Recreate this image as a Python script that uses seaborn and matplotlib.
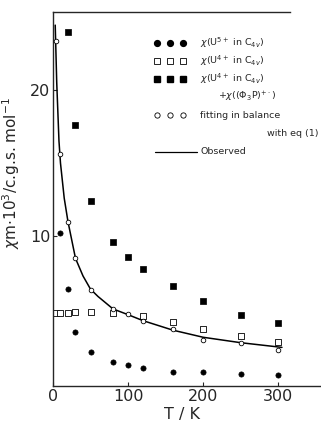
import matplotlib
matplotlib.use("Agg")
import matplotlib.pyplot as plt
import seaborn as sns

# chi(U5+ in C4v)
t_u5 = [10, 20, 30, 50, 80, 100, 120, 160, 200, 250, 300]
chi_u5 = [10.2, 6.4, 3.45, 2.1, 1.45, 1.2, 1.03, 0.78, 0.73, 0.64, 0.53]

# chi(U4+ in C4v)
t_u4 = [4.2, 10, 20, 30, 50, 80, 120, 160, 200, 250, 300]
chi_u4 = [4.8, 4.8, 4.8, 4.85, 4.85, 4.75, 4.6, 4.16, 3.71, 3.21, 2.82]

# chi(U4+) + chi((Ph3P)+.)
t_u4r = [20, 30, 50, 80, 100, 120, 160, 200, 250, 300]
chi_u4r = [23.9, 17.6, 12.4, 9.6, 8.57, 7.78, 6.6, 5.57, 4.64, 4.07]

# fitting with eq (1)
t_fit = [4.2, 10, 20, 30, 50, 80, 100, 120, 160, 200, 250, 300]
chi_fit = [23.3, 15.6, 11.0, 8.5, 6.35, 5.05, 4.7, 4.22, 3.69, 2.96, 2.75, 2.26]

# observed curve
t_obs = [3, 5, 8, 10, 15, 20, 30, 40, 50, 60, 80, 100, 120, 160, 200, 250, 305]
chi_obs = [24.4, 20.5, 16.5, 15.0, 12.6, 11.0, 8.5, 7.3, 6.4, 5.9, 5.05, 4.66,
           4.25, 3.6, 3.12, 2.75, 2.43]

# legend rows: (marker style, text, text indent)
legend_rows = [
    ('u5', r'$\chi$(U$^{5+}$ in C$_{4v}$)', 0.0),
    ('u4', r'$\chi$(U$^{4+}$ in C$_{4v}$)', 0.0),
    ('u4r', r'$\chi$(U$^{4+}$ in C$_{4v}$)', 0.0),
    (None, r'+$\chi$(($\Phi_3$P)$^{+\cdot}$)', 0.067),
    ('fit', 'fitting in balance', 0.0),
    (None, 'with eq (1)', 0.25),
    ('obs', 'Observed', 0.0),
]

sns.set_style("ticks")
plt.rcParams['font.family'] = ['DejaVu Sans']

fig = plt.figure(figsize=(3.21, 4.26), dpi=100)
ax = fig.add_axes([0.165, 0.094, 0.835, 0.878])

sns.lineplot(x=t_obs, y=chi_obs, ax=ax, color='black', linewidth=1.1)
sns.scatterplot(x=t_u5, y=chi_u5, ax=ax, marker='o', s=14, color='black',
                edgecolor='black', linewidth=0.5)
sns.scatterplot(x=t_u4, y=chi_u4, ax=ax, marker='s', s=13, facecolor='white',
                edgecolor='black', linewidth=0.6)
sns.scatterplot(x=t_u4r, y=chi_u4r, ax=ax, marker='s', s=16, color='black',
                edgecolor='black', linewidth=0.5)
sns.scatterplot(x=t_fit, y=chi_fit, ax=ax, marker='o', s=11, facecolor='white',
                edgecolor='black', linewidth=0.6, zorder=4)

ax.set_xlim(0, 357)
ax.set_ylim(-0.2, 25.3)
ax.set_xticks([0, 100, 200, 300])
ax.set_yticks([10, 20])
ax.tick_params(direction='in', length=3, width=0.8, labelsize=11.5, pad=2)
ax.spines['right'].set_visible(False)
ax.spines['top'].set_bounds(0, 316)
for s in ['left', 'bottom', 'top']:
    ax.spines[s].set_linewidth(1.0)

ax.set_xlabel('T / K', fontsize=11.5)
ax.xaxis.set_label_coords(0.48, -0.055)
ax.set_ylabel(r'$\chi$m$\cdot$10$^{3}$/c.g.s. mol$^{-1}$', fontsize=11)
ax.yaxis.set_label_coords(-0.115, 0.57)

# hand-made key, as in the original figure
marker_kw = {
    'u5': dict(marker='o', ms=4.2, color='black'),
    'u4': dict(marker='s', ms=3.8, mfc='white', mec='black', mew=0.6),
    'u4r': dict(marker='s', ms=4.2, color='black'),
    'fit': dict(marker='o', ms=3.8, mfc='white', mec='black', mew=0.6),
}
y0, dy = 0.918, 0.0487
xm = [0.388, 0.437, 0.485]
xt = 0.549
for i, (kind, text, indent) in enumerate(legend_rows):
    y = y0 - i * dy
    if kind == 'obs':
        ax.plot([0.381, 0.537], [y, y], color='black', lw=0.9,
                transform=ax.transAxes, clip_on=False)
    elif kind is not None:
        ax.plot(xm, [y] * 3, ls='none', transform=ax.transAxes,
                clip_on=False, **marker_kw[kind])
    ax.text(xt + indent, y, text, transform=ax.transAxes, fontsize=6.8,
            va='center', ha='left')

fig.savefig('out.png', dpi=100)
